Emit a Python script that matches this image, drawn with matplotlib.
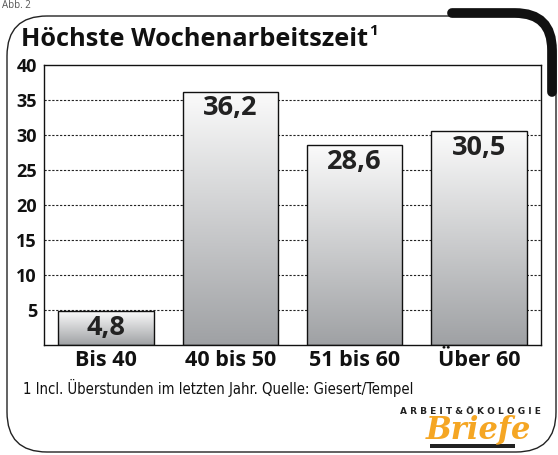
import matplotlib
matplotlib.use("Agg")
import matplotlib.pyplot as plt
import numpy as np
from matplotlib.patches import Rectangle
from matplotlib.path import Path
import matplotlib.patches as mpatches
from matplotlib.colors import LinearSegmentedColormap

categories = ["Bis 40", "40 bis 50", "51 bis 60", "Über 60"]
values = [4.8, 36.2, 28.6, 30.5]
value_labels = ["4,8", "36,2", "28,6", "30,5"]
yticks = [5, 10, 15, 20, 25, 30, 35, 40]

W, H = 558, 455
fig = plt.figure(figsize=(W / 100, H / 100), dpi=100)
fig.patch.set_facecolor("white")

# overlay in pixel coords
bg = fig.add_axes([0, 0, 1, 1], zorder=0)
bg.set_xlim(0, W)
bg.set_ylim(H, 0)
bg.axis("off")

# frame with rounded corners
r = 40
left, top, right, bottom = 7, 16, 556, 452
verts = [
    (left + r, top), (right - r, top),
    (right, top), (right, top + r),
    (right, bottom - r),
    (right, bottom), (right - r, bottom),
    (left + r, bottom),
    (left, bottom), (left, bottom - r),
    (left, top + r),
    (left, top), (left + r, top),
]
codes = [Path.MOVETO, Path.LINETO, Path.CURVE3, Path.CURVE3, Path.LINETO,
         Path.CURVE3, Path.CURVE3, Path.LINETO, Path.CURVE3, Path.CURVE3,
         Path.LINETO, Path.CURVE3, Path.CURVE3]
bg.add_patch(mpatches.PathPatch(Path(verts, codes), fc="none", ec="#222222", lw=1.0))
# thick arc top right
tv = [(452, 13), (515, 13), (552, 13), (552, 50), (552, 92)]
tc = [Path.MOVETO, Path.LINETO, Path.CURVE3, Path.CURVE3, Path.LINETO]
bg.add_patch(mpatches.PathPatch(Path(tv, tc), fc="none", ec="#111111", lw=7, capstyle="round"))

bg.text(2, 5, "Abb. 2", fontsize=7, color="#555555", va="center", ha="left", family="Open Sans")

# title
bg.text(21, 40, "Höchste Wochenarbeitszeit", fontsize=18.3, fontweight="bold",
        family="Open Sans", va="center", ha="left", color="#111111")
bg.text(369, 31, "1", fontsize=11, fontweight="bold", family="Open Sans",
        va="center", ha="left", color="#111111")

# footnote
bg.text(23, 388, "1 Incl. Überstunden im letzten Jahr. Quelle: Giesert/Tempel",
        fontsize=10.6, family="DejaVu Sans", fontstretch="condensed", va="center", ha="left",
        color="#111111")

# logo
bg.text(470, 411, "A R B E I T & Ö K O L O G I E", fontsize=6.5, fontweight="bold",
        family="DejaVu Sans", va="center", ha="center", color="#222222")
bg.text(478, 430, "Briefe", fontsize=22, fontweight="bold", style="italic",
        family="DejaVu Serif", va="center", ha="center", color="#f5a623")
bg.add_patch(Rectangle((430, 444), 85, 4, fc="#222222", ec="none"))

# main axes
ax_l, ax_r, ax_t, ax_b = 44, 541, 65, 345
ax = fig.add_axes([ax_l / W, 1 - ax_b / H, (ax_r - ax_l) / W, (ax_b - ax_t) / H], zorder=2)
ax.set_facecolor("white")
x = np.arange(len(categories))
for yv in yticks[:-1]:
    ax.axhline(yv, color="#222222", lw=0.8, ls=(0, (2, 1.5)), zorder=1)

bw = 0.77
grad = np.linspace(1, 0, 256).reshape(-1, 1)
cmap = LinearSegmentedColormap.from_list("g", ["#9fa1a4", "#fbfbfb"])
bars = ax.bar(x, values, width=bw, color="none", edgecolor="#111111", lw=1.0, zorder=3)
for b in bars:
    x0, y0 = b.get_x(), b.get_y()
    w, h = b.get_width(), b.get_height()
    im = ax.imshow(grad, extent=[x0, x0 + w, y0, y0 + h], aspect="auto",
                   cmap=cmap, vmin=0, vmax=1, zorder=2, origin="upper")
    im.set_clip_path(b)
ax.set_xlim(-0.5, len(categories) - 0.5)
ax.set_ylim(0, 40)

for xi, v, lab in zip(x, values, value_labels):
    ax.text(xi, v - 0.55, lab, ha="center", va="top", fontsize=19.5, fontweight="bold",
            family="Open Sans", color="#222222", zorder=4)

ax.set_yticks(yticks)
ax.set_yticklabels([str(t) for t in yticks], fontsize=13, fontweight="bold", family="Open Sans")
ax.set_xticks(x)
ax.set_xticklabels(categories, fontsize=15.5, fontweight="bold", family="Open Sans")
ax.tick_params(axis="both", length=0, pad=5, colors="#111111")
ax.tick_params(axis="x", pad=3.5)
for s in ax.spines.values():
    s.set_color("#111111")
    s.set_linewidth(1.0)

fig.savefig("out.png", dpi=100)
